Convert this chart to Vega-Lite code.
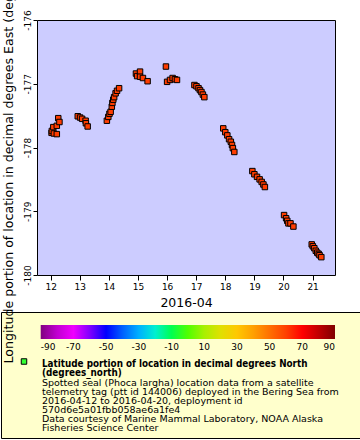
{
  "$schema": "https://vega.github.io/schema/vega-lite/v6.json",
  "autosize": {"type": "none"},
  "padding": {"left": 1, "top": 20, "right": 359, "bottom": 420},
  "background": "white",
  "bounds": "flush",
  "center": true,
  "spacing": 37,
  "config": {
    "font": "DejaVu Sans",
    "axis": {"grid": false, "domain": false, "tickColor": "black", "labelColor": "black", "titleColor": "black", "titleFontWeight": "normal", "labelFont": "DejaVu Sans", "titleFont": "DejaVu Sans"},
    "legend": {"labelColor": "black", "labelFont": "DejaVu Sans"},
    "title": {"color": "black", "subtitleColor": "black", "font": "DejaVu Sans", "subtitleFont": "DejaVu Sans"}
  },
  "datasets": {
    "track": [
      {"day": 12.03, "longitude": -177.77, "latitude": 61.2},
      {"day": 12.04, "longitude": -177.74, "latitude": 61.2},
      {"day": 12.09, "longitude": -177.68, "latitude": 61.2},
      {"day": 12.11, "longitude": -177.78, "latitude": 61.2},
      {"day": 12.21, "longitude": -177.66, "latitude": 61.2},
      {"day": 12.21, "longitude": -177.79, "latitude": 61.2},
      {"day": 12.26, "longitude": -177.54, "latitude": 61.2},
      {"day": 12.30, "longitude": -177.60, "latitude": 61.2},
      {"day": 12.93, "longitude": -177.51, "latitude": 61.2},
      {"day": 13.01, "longitude": -177.53, "latitude": 61.2},
      {"day": 13.08, "longitude": -177.55, "latitude": 61.2},
      {"day": 13.20, "longitude": -177.58, "latitude": 61.2},
      {"day": 13.21, "longitude": -177.62, "latitude": 61.2},
      {"day": 13.27, "longitude": -177.67, "latitude": 61.2},
      {"day": 13.93, "longitude": -177.58, "latitude": 61.1},
      {"day": 13.98, "longitude": -177.52, "latitude": 61.1},
      {"day": 14.02, "longitude": -177.47, "latitude": 61.1},
      {"day": 14.06, "longitude": -177.44, "latitude": 61.1},
      {"day": 14.10, "longitude": -177.36, "latitude": 61.1},
      {"day": 14.12, "longitude": -177.30, "latitude": 61.1},
      {"day": 14.15, "longitude": -177.25, "latitude": 61.1},
      {"day": 14.18, "longitude": -177.21, "latitude": 61.1},
      {"day": 14.23, "longitude": -177.15, "latitude": 61.1},
      {"day": 14.28, "longitude": -177.11, "latitude": 61.1},
      {"day": 14.35, "longitude": -177.07, "latitude": 61.1},
      {"day": 14.93, "longitude": -176.84, "latitude": 61.0},
      {"day": 14.97, "longitude": -176.88, "latitude": 61.0},
      {"day": 15.07, "longitude": -176.81, "latitude": 61.0},
      {"day": 15.07, "longitude": -176.89, "latitude": 61.0},
      {"day": 15.17, "longitude": -176.91, "latitude": 61.0},
      {"day": 15.33, "longitude": -176.96, "latitude": 61.0},
      {"day": 15.96, "longitude": -176.73, "latitude": 61.0},
      {"day": 16.00, "longitude": -176.97, "latitude": 61.0},
      {"day": 16.10, "longitude": -176.94, "latitude": 61.0},
      {"day": 16.19, "longitude": -176.91, "latitude": 61.0},
      {"day": 16.27, "longitude": -176.93, "latitude": 61.0},
      {"day": 16.34, "longitude": -176.94, "latitude": 61.0},
      {"day": 16.94, "longitude": -177.02, "latitude": 60.9},
      {"day": 17.01, "longitude": -177.04, "latitude": 60.9},
      {"day": 17.08, "longitude": -177.07, "latitude": 60.9},
      {"day": 17.13, "longitude": -177.10, "latitude": 60.9},
      {"day": 17.18, "longitude": -177.13, "latitude": 60.9},
      {"day": 17.23, "longitude": -177.17, "latitude": 60.9},
      {"day": 17.28, "longitude": -177.21, "latitude": 60.9},
      {"day": 17.93, "longitude": -177.70, "latitude": 60.9},
      {"day": 18.00, "longitude": -177.76, "latitude": 60.9},
      {"day": 18.07, "longitude": -177.81, "latitude": 60.9},
      {"day": 18.13, "longitude": -177.87, "latitude": 60.9},
      {"day": 18.19, "longitude": -177.91, "latitude": 60.9},
      {"day": 18.23, "longitude": -177.96, "latitude": 60.9},
      {"day": 18.26, "longitude": -178.01, "latitude": 60.9},
      {"day": 18.31, "longitude": -178.07, "latitude": 60.9},
      {"day": 18.93, "longitude": -178.37, "latitude": 60.8},
      {"day": 19.00, "longitude": -178.42, "latitude": 60.8},
      {"day": 19.09, "longitude": -178.46, "latitude": 60.8},
      {"day": 19.18, "longitude": -178.50, "latitude": 60.8},
      {"day": 19.25, "longitude": -178.54, "latitude": 60.8},
      {"day": 19.31, "longitude": -178.58, "latitude": 60.8},
      {"day": 19.36, "longitude": -178.62, "latitude": 60.8},
      {"day": 20.02, "longitude": -179.06, "latitude": 60.8},
      {"day": 20.09, "longitude": -179.11, "latitude": 60.8},
      {"day": 20.13, "longitude": -179.15, "latitude": 60.8},
      {"day": 20.17, "longitude": -179.19, "latitude": 60.8},
      {"day": 20.24, "longitude": -179.19, "latitude": 60.8},
      {"day": 20.34, "longitude": -179.24, "latitude": 60.8},
      {"day": 20.97, "longitude": -179.52, "latitude": 60.7},
      {"day": 21.01, "longitude": -179.55, "latitude": 60.7},
      {"day": 21.06, "longitude": -179.58, "latitude": 60.7},
      {"day": 21.11, "longitude": -179.62, "latitude": 60.7},
      {"day": 21.16, "longitude": -179.65, "latitude": 60.7},
      {"day": 21.21, "longitude": -179.67, "latitude": 60.7},
      {"day": 21.24, "longitude": -179.69, "latitude": 60.7},
      {"day": 21.30, "longitude": -179.72, "latitude": 60.7}
    ]
  },
  "vconcat": [
    {
      "width": 298,
      "height": 255,
      "view": {"fill": "#ccccff", "stroke": "black", "strokeWidth": 1},
      "data": {"name": "track"},
      "mark": {"type": "point", "shape": "square", "filled": true, "size": 30, "stroke": "black", "strokeWidth": 1, "opacity": 1, "fillOpacity": 1, "strokeOpacity": 1},
      "encoding": {
        "x": {
          "field": "day", "type": "quantitative",
          "scale": {"domain": [11.529, 21.77], "nice": false, "zero": false},
          "axis": {"values": [12, 13, 14, 15, 16, 17, 18, 19, 20, 21], "title": "2016-04", "tickSize": 5, "labelFontSize": 9, "labelPadding": 2, "titleFontSize": 12.5, "titlePadding": 5, "labelFlush": false}
        },
        "y": {
          "field": "longitude", "type": "quantitative",
          "scale": {"domain": [-180, -176], "nice": false, "zero": false},
          "axis": {"values": [-180, -179, -178, -177, -176], "labelExpr": "'' + datum.value", "labelAngle": 270, "tickSize": 4, "labelFontSize": 9, "labelPadding": 1, "labelFlush": false, "title": null}
        },
        "fill": {
          "field": "latitude", "type": "quantitative",
          "scale": {
            "domain": [-90, -80, -70, -60, -50, -40, -30, -20, -10, 0, 10, 20, 30, 40, 50, 60, 70, 80, 90],
            "range": ["#800080", "#c000d0", "#f000ff", "#8000ff", "#0000ff", "#0060ff", "#00b0ff", "#00f0d0", "#00ff50", "#50ff00", "#a8f000", "#e0e000", "#ffc800", "#ffa000", "#ff7000", "#ff4000", "#ff0000", "#c00000", "#800000"]
          },
          "legend": {"orient": "none", "legendX": 39.7, "legendY": 305, "direction": "horizontal", "gradientLength": 294.3, "gradientThickness": 14, "gradientStrokeWidth": 0, "values": [-90, -70, -50, -30, -10, 10, 30, 50, 70, 90], "labelExpr": "'' + datum.value", "title": null, "labelFontSize": 9, "labelAlign": "center", "labelOffset": 4, "labelOverlap": false, "padding": 0}
        },
        "shape": {
          "datum": "Latitude portion of location in decimal degrees North", "type": "nominal",
          "scale": {"range": ["square"]},
          "legend": {"orient": "none", "legendX": 18, "legendY": 336.5, "title": null, "labelExpr": "''", "symbolSize": 30, "symbolFillColor": "#33ff33", "symbolStrokeColor": "black", "symbolStrokeWidth": 1, "symbolOpacity": 1, "padding": 0}
        }
      }
    },
    {
      "width": 370,
      "height": 126,
      "view": {"fill": "#ffffcc", "stroke": "black", "strokeWidth": 1},
      "title": {
        "text": ["Latitude portion of location in decimal degrees North", "(degrees_north)"],
        "subtitle": ["Spotted seal (Phoca largha) location data from a satellite", "telemetry tag (ptt id 144006) deployed in the Bering Sea from", "2016-04-12 to 2016-04-20, deployment id", "570d6e5a01fbb058ae6a1fe4", "Data courtesy of Marine Mammal Laboratory, NOAA Alaska", "Fisheries Science Center"],
        "orient": "bottom", "anchor": "start", "offset": -79, "dx": 41,
        "font": "DejaVu Sans Condensed, DejaVu Sans", "fontSize": 9.8, "fontWeight": "bold", "lineHeight": 8.5,
        "subtitleFontSize": 9.5, "subtitleFontWeight": "normal", "subtitleLineHeight": 9, "subtitlePadding": 1
      },
      "data": {"values": []},
      "mark": "point",
      "encoding": {
        "y": {
          "field": "longitude", "type": "quantitative",
          "scale": {"domain": [-180, -176], "nice": false, "zero": false},
          "axis": {"title": "Longitude portion of location in decimal degrees East (degrees_east)", "labels": false, "ticks": false, "domain": false, "grid": false,
            "titleAngle": 270, "titleAlign": "left", "titleBaseline": "middle", "titleX": 7, "titleY": 51, "titleFontSize": 12.6}
        }
      }
    }
  ]
}
